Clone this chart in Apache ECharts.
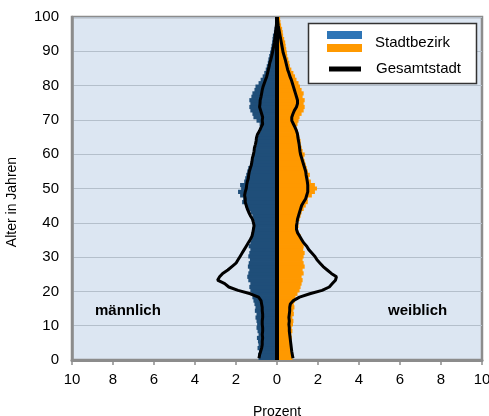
<!DOCTYPE html>
<html><head><meta charset="utf-8">
<script src="https://cdn.jsdelivr.net/npm/echarts@6/dist/echarts.min.js"></script>
<style>html,body{margin:0;padding:0;background:#fff}#c{width:489px;height:416px}</style>
</head><body><div id="c"></div>
<script>
// ages 0..100
const ages = Array.from({length:101},(_,i)=>String(i));
const yTicks = [0,10,20,30,40,50,60,70,80,90,100];
const xTicks = [-10,-8,-6,-4,-2,0,2,4,6,8,10];
// Stadtbezirk, Prozent (männlich, weiblich)
const maleDistrict = [0.9,0.92,0.88,0.95,0.9,0.93,0.98,0.9,0.95,1.0,0.97,1.0,1.05,1.0,1.08,1.05,1.1,1.15,1.2,1.25,1.3,1.35,1.3,1.4,1.45,1.4,1.35,1.42,1.38,1.32,1.4,1.35,1.3,1.38,1.3,1.25,1.2,1.15,1.2,1.15,1.1,1.15,1.2,1.3,1.45,1.55,1.7,1.65,1.8,1.9,1.75,1.8,1.6,1.55,1.5,1.45,1.4,1.3,1.25,1.2,1.15,1.1,1.05,1.0,1.05,0.95,0.9,0.8,0.75,0.85,1.0,1.15,1.2,1.3,1.35,1.3,1.35,1.25,1.2,1.1,1.05,0.9,0.8,0.7,0.62,0.55,0.5,0.45,0.42,0.38,0.34,0.3,0.27,0.24,0.22,0.2,0.15,0.12,0.08,0.05,0.03];
const femaleDistrict = [0.75,0.7,0.68,0.72,0.7,0.68,0.72,0.7,0.75,0.72,0.78,0.8,0.75,0.82,0.8,0.85,0.82,0.88,0.9,1.0,1.1,1.15,1.2,1.25,1.2,1.3,1.25,1.35,1.3,1.25,1.3,1.35,1.28,1.3,1.25,1.2,1.15,1.05,1.0,1.05,1.0,1.1,1.15,1.2,1.3,1.4,1.5,1.5,1.7,1.85,1.95,1.85,1.65,1.55,1.6,1.5,1.45,1.4,1.35,1.3,1.35,1.25,1.2,1.15,1.15,1.1,1.05,1.0,0.95,1.0,1.05,1.1,1.2,1.3,1.35,1.3,1.35,1.25,1.3,1.2,1.12,1.05,0.95,0.88,0.8,0.7,0.63,0.6,0.55,0.5,0.48,0.45,0.42,0.4,0.35,0.3,0.28,0.25,0.2,0.17,0.15];
// Gesamtstadt, Prozent
const maleCity = [0.88,0.85,0.8,0.75,0.72,0.72,0.7,0.72,0.7,0.7,0.72,0.72,0.7,0.7,0.72,0.72,0.75,0.78,0.9,1.3,1.9,2.35,2.55,2.9,2.8,2.65,2.4,2.2,2.0,1.9,1.8,1.7,1.6,1.5,1.4,1.3,1.22,1.18,1.15,1.12,1.15,1.2,1.3,1.38,1.45,1.5,1.55,1.55,1.58,1.55,1.5,1.48,1.45,1.4,1.38,1.35,1.3,1.25,1.22,1.2,1.15,1.12,1.1,1.05,1.02,1.0,0.95,0.85,0.78,0.7,0.72,0.7,0.75,0.8,0.85,0.83,0.82,0.78,0.75,0.72,0.68,0.62,0.56,0.5,0.46,0.42,0.38,0.35,0.3,0.26,0.22,0.19,0.16,0.13,0.11,0.09,0.07,0.05,0.03,0.02,0.01];
const femaleCity = [0.78,0.75,0.72,0.7,0.68,0.66,0.64,0.62,0.6,0.6,0.58,0.6,0.58,0.6,0.62,0.62,0.65,0.8,1.1,1.6,2.2,2.55,2.7,2.85,2.9,2.65,2.45,2.25,2.1,1.95,1.85,1.7,1.55,1.45,1.3,1.2,1.1,1.0,0.95,0.95,0.98,1.0,1.05,1.1,1.15,1.2,1.3,1.4,1.45,1.5,1.5,1.5,1.48,1.45,1.42,1.4,1.35,1.3,1.25,1.2,1.15,1.12,1.1,1.08,1.05,1.02,1.0,0.95,0.88,0.8,0.72,0.72,0.78,0.85,0.95,1.0,1.0,0.95,0.9,0.85,0.8,0.75,0.7,0.63,0.58,0.52,0.48,0.44,0.4,0.35,0.3,0.27,0.24,0.21,0.18,0.15,0.12,0.09,0.06,0.04,0.02];

const chart = echarts.init(document.getElementById('c'));
const font = 'Liberation Sans, Arial, sans-serif';
const axisGray = '#8c8c8c';
const maleColor = '#1f4e79', femaleColor = '#ff9900';
chart.setOption({
  animation:false,
  textStyle:{fontFamily:font},
  grid:{left:72,right:7,top:17,bottom:56,containLabel:false,outerBoundsMode:'none',
        show:true,backgroundColor:'#dce6f2',borderColor:axisGray,borderWidth:2.5},
  xAxis:[{
    type:'value',min:xTicks[0],max:xTicks[xTicks.length-1],interval:2,
    axisLine:{show:true,onZero:false,lineStyle:{color:axisGray,width:3}},
    axisTick:{show:true,length:5,lineStyle:{color:axisGray,width:1.5}},
    axisLabel:{color:'#000',fontSize:15,margin:12,formatter:v=>String(Math.abs(v))},
    splitLine:{show:false},
    name:'Prozent',nameLocation:'middle',nameGap:45,nameTextStyle:{color:'#000',fontSize:14}
  }],
  yAxis:[{
    type:'category',data:ages,boundaryGap:true,show:false
  },{
    type:'value',min:yTicks[0],max:yTicks[yTicks.length-1],interval:10,position:'left',
    axisLine:{show:true,lineStyle:{color:axisGray,width:2.5}},
    axisTick:{show:false},
    axisLabel:{color:'#000',fontSize:15,margin:13},
    splitLine:{show:true,lineStyle:{color:'#b4bfcb',width:1.2}}
  }],
  series:[
    {type:'bar',name:'Stadtbezirk m',yAxisIndex:0,data:maleDistrict.map(v=>-v),
     itemStyle:{color:maleColor},barWidth:4.2,barGap:'-100%'},
    {type:'bar',name:'Stadtbezirk w',yAxisIndex:0,data:femaleDistrict,
     itemStyle:{color:femaleColor},barWidth:4.2,barGap:'-100%',
     markLine:{silent:true,symbol:'none',label:{show:false},
       lineStyle:{color:'#000',width:4,type:'solid'},data:[{xAxis:0}]}},
    {type:'line',name:'Gesamtstadt m',yAxisIndex:0,data:maleCity.map(v=>-v),
     showSymbol:false,symbol:'none',lineStyle:{color:'#000',width:3},z:5},
    {type:'line',name:'Gesamtstadt w',yAxisIndex:0,data:femaleCity,
     showSymbol:false,symbol:'none',lineStyle:{color:'#000',width:3},z:5}
  ],
  graphic:[
    {type:'text',x:12,y:202,rotation:Math.PI/2,style:{text:'Alter in Jahren',font:'14px '+font,fill:'#000',textAlign:'center',textVerticalAlign:'middle'}},
    {type:'text',left:95,top:303,style:{text:'männlich',font:'bold 15px '+font,fill:'#000'}},
    {type:'text',left:388,top:303,style:{text:'weiblich',font:'bold 15px '+font,fill:'#000'}},
    {type:'rect',shape:{x:308.5,y:23.5,width:168,height:60},style:{fill:'#fff',stroke:'#333',lineWidth:1.5},z:10},
    {type:'rect',shape:{x:327,y:31,width:35,height:8},style:{fill:'#2e75b6'},z:11},
    {type:'rect',shape:{x:327,y:44,width:35,height:8},style:{fill:femaleColor},z:11},
    {type:'rect',shape:{x:329,y:66.5,width:32,height:5},style:{fill:'#000'},z:11},
    {type:'text',x:375,y:43,style:{text:'Stadtbezirk',font:'15px '+font,fill:'#000',textVerticalAlign:'middle'},z:11},
    {type:'text',x:376,y:69,style:{text:'Gesamtstadt',font:'15px '+font,fill:'#000',textVerticalAlign:'middle'},z:11}
  ]
});
</script></body></html>
